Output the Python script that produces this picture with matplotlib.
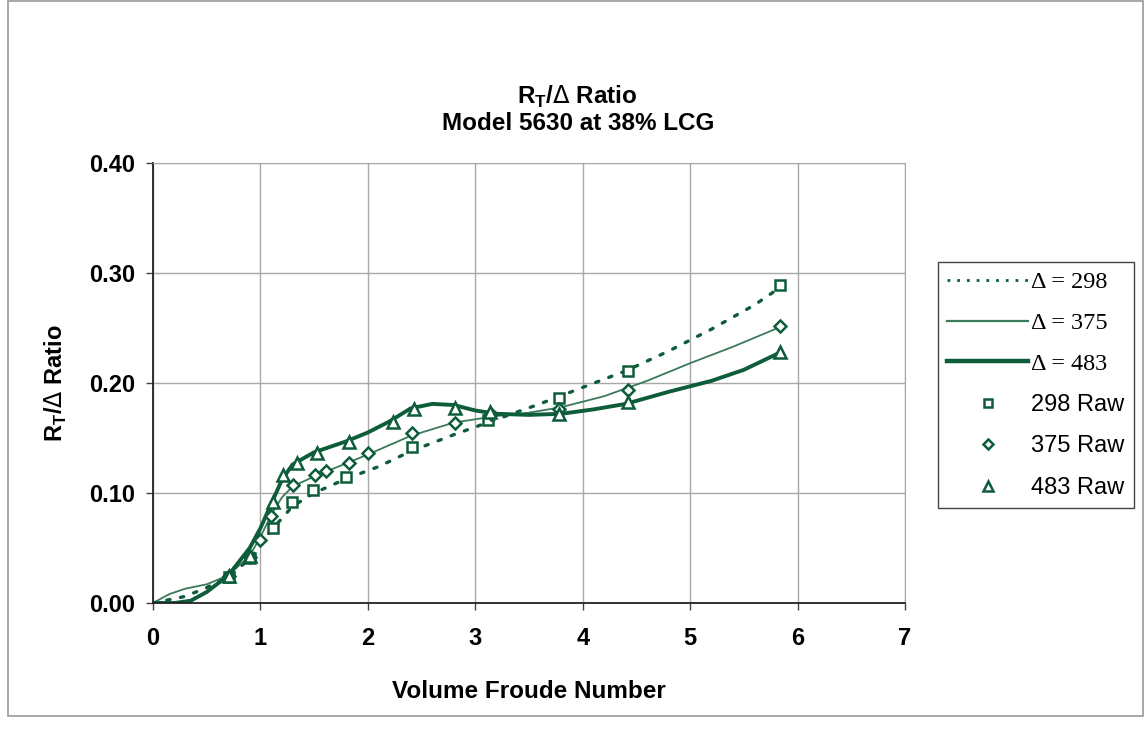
import matplotlib
matplotlib.use("Agg")
import matplotlib.pyplot as plt
from matplotlib.patches import Rectangle
from matplotlib.lines import Line2D

# Raw test points (volume Froude number, R_T/displacement)
fn_298 = [0.71, 0.90, 1.12, 1.29, 1.49, 1.80, 2.41, 3.12, 3.78, 4.42, 5.84]
rt_298 = [0.024, 0.041, 0.068, 0.092, 0.103, 0.115, 0.142, 0.166, 0.186, 0.211, 0.289]

fn_375 = [0.71, 0.90, 1.00, 1.10, 1.30, 1.51, 1.61, 1.82, 2.00, 2.41, 2.81, 3.15, 3.78, 4.42, 5.84]
rt_375 = [0.025, 0.042, 0.057, 0.079, 0.107, 0.116, 0.120, 0.127, 0.136, 0.155, 0.164, 0.172, 0.176, 0.194, 0.252]

fn_483 = [0.71, 0.90, 1.12, 1.21, 1.34, 1.53, 1.82, 2.23, 2.43, 2.81, 3.14, 3.78, 4.42, 5.84]
rt_483 = [0.025, 0.043, 0.092, 0.116, 0.127, 0.136, 0.146, 0.165, 0.176, 0.177, 0.174, 0.172, 0.183, 0.228]

# Smoothed fit curves
fit_x_298 = [0, 0.3, 0.5, 0.7, 0.9, 1.1, 1.3, 1.5, 1.8, 2.1, 2.4, 2.8, 3.2, 3.6, 4.0, 4.4, 4.8, 5.2, 5.6, 5.84]
fit_y_298 = [0, 0.006, 0.014, 0.024, 0.040, 0.066, 0.088, 0.100, 0.113, 0.124, 0.138, 0.153, 0.167, 0.181, 0.196, 0.211, 0.229, 0.249, 0.271, 0.287]

fit_x_375 = [0, 0.15, 0.3, 0.5, 0.7, 0.9, 1.0, 1.1, 1.2, 1.3, 1.5, 1.7, 2.0, 2.4, 2.8, 3.2, 3.5, 3.8, 4.2, 4.6, 5.0, 5.4, 5.84]
fit_y_375 = [0, 0.008, 0.013, 0.017, 0.025, 0.043, 0.060, 0.080, 0.096, 0.106, 0.115, 0.123, 0.135, 0.152, 0.164, 0.170, 0.173, 0.178, 0.188, 0.202, 0.218, 0.233, 0.251]

fit_x_483 = [0, 0.2, 0.35, 0.5, 0.7, 0.9, 1.0, 1.1, 1.2, 1.3, 1.5, 1.8, 2.0, 2.2, 2.4, 2.6, 2.8, 3.0, 3.2, 3.5, 3.8, 4.1, 4.4, 4.8, 5.2, 5.5, 5.8]
fit_y_483 = [0, 0.0, 0.002, 0.010, 0.025, 0.050, 0.068, 0.090, 0.112, 0.126, 0.137, 0.147, 0.155, 0.165, 0.177, 0.181, 0.180, 0.175, 0.172, 0.171, 0.172, 0.176, 0.181, 0.192, 0.202, 0.212, 0.226]

x_ticks = [0, 1, 2, 3, 4, 5, 6, 7]
y_ticks = [0.0, 0.1, 0.2, 0.3, 0.4]

green = '#0d5c3a'
thin_green = '#3a7a5a'
sans = ['Liberation Sans', 'DejaVu Sans']
serif = ['Liberation Serif', 'DejaVu Serif']

fig = plt.figure(figsize=(11.44, 7.30), dpi=100)
fig.patches.append(Rectangle((8 / 1144, 14 / 730), 1 - 9 / 1144, 1 - 15 / 730,
                             transform=fig.transFigure, fill=False,
                             edgecolor='#9a9a9a', linewidth=1.2))

ax = fig.add_axes([153 / 1144, 127 / 730, 752 / 1144, 440 / 730])

ax.plot(fit_x_298, fit_y_298, color=green, linestyle=(0, (1, 3.2)), linewidth=2.4,
        dash_capstyle='round')
ax.plot(fit_x_375, fit_y_375, color=thin_green, linewidth=1.3)
ax.plot(fit_x_483, fit_y_483, color=green, linewidth=2.8)

mk = dict(linestyle='none', markerfacecolor='white', markeredgecolor=green,
          markeredgewidth=1.8)
ax.plot(fn_298, rt_298, marker='s', markersize=7.5, **mk)
ax.plot(fn_375, rt_375, marker='D', markersize=6.5, **mk)
ax.plot(fn_483, rt_483, marker='^', markersize=8.5, **mk)

ax.set_xlim(0, 7)
ax.set_ylim(0, 0.4)
ax.set_xticks(x_ticks)
ax.set_yticks(y_ticks)
ax.set_xticklabels([str(t) for t in x_ticks], fontsize=17, fontweight='bold', family=sans)
ax.set_yticklabels([f'{t:.2f}' for t in y_ticks], fontsize=17, fontweight='bold', family=sans)
ax.tick_params(axis='both', direction='out', length=5, width=1, color='#444444')
ax.tick_params(axis='x', pad=12)
ax.tick_params(axis='y', pad=8)
ax.grid(True, color='#a8a8a8', linewidth=1.0)
ax.set_axisbelow(True)
for side in ['top', 'right']:
    ax.spines[side].set_color('#a8a8a8')
for side in ['left', 'bottom']:
    ax.spines[side].set_color('#222222')
    ax.spines[side].set_linewidth(1.3)

ax.set_xlabel('Volume Froude Number', fontsize=17.5, fontweight='bold', family=sans, labelpad=22)
ax.set_ylabel(r'R$_\mathregular{T}$/$\Delta$ Ratio', fontsize=17, fontweight='bold', family=sans,
              labelpad=14)

fig.text(0.505, 1 - 97 / 730, r'R$_\mathregular{T}$/$\Delta$ Ratio', ha='center', va='center',
         fontsize=17.5, fontweight='bold', family=sans)
fig.text(0.505, 1 - 123 / 730, 'Model 5630 at 38% LCG', ha='center', va='center',
         fontsize=17.5, fontweight='bold', family=sans)

handles = [
    Line2D([], [], color=green, linestyle=(0, (1, 2.5)), linewidth=2.0),
    Line2D([], [], color=thin_green, linewidth=1.6),
    Line2D([], [], color=green, linewidth=3.2),
    Line2D([], [], marker='s', markersize=6, **mk),
    Line2D([], [], marker='D', markersize=5, **mk),
    Line2D([], [], marker='^', markersize=7, **mk),
]
labels = ['\u0394 = 298', '\u0394 = 375', '\u0394 = 483', '298 Raw', '375 Raw', '483 Raw']
leg = fig.legend(handles, labels, loc='upper left', bbox_to_anchor=(938 / 1144, 1 - 262 / 730),
                 frameon=True, fancybox=False, edgecolor='#444444', framealpha=1,
                 handlelength=3.4, handletextpad=0.15, labelspacing=0.82,
                 borderpad=0.4, borderaxespad=0, prop={'family': sans, 'size': 17})
for txt in leg.get_texts()[:3]:
    txt.set_family(serif)
    txt.set_fontsize(17.5)

fig.savefig('out.png', dpi=100, facecolor='white')
